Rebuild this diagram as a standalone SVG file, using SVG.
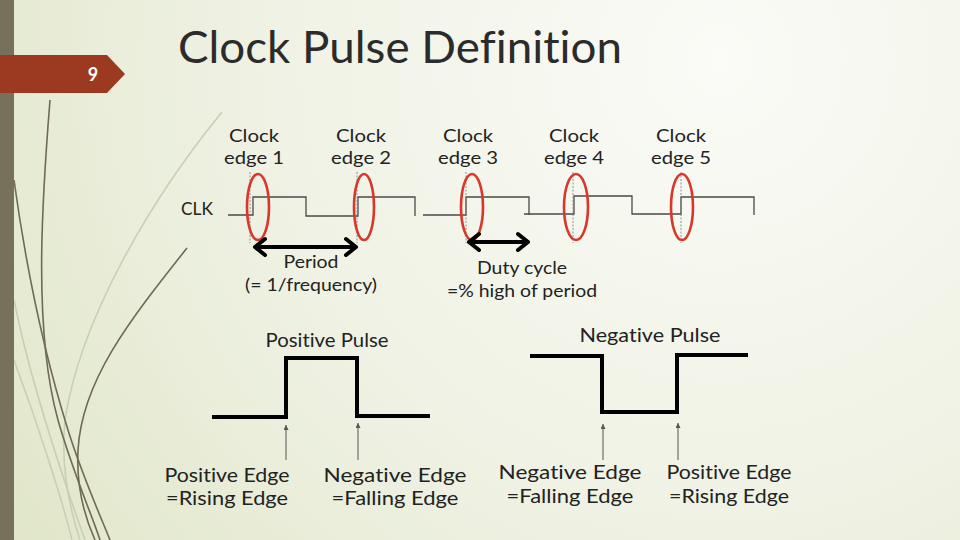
<svg xmlns="http://www.w3.org/2000/svg" width="960" height="540" viewBox="0 0 960 540">
<defs>
  <radialGradient id="bg" cx="720" cy="60" r="900" gradientUnits="userSpaceOnUse">
    <stop offset="0" stop-color="#fbfbf7"/>
    <stop offset="0.55" stop-color="#eef1e2"/>
    <stop offset="1" stop-color="#dfe5c6"/>
  </radialGradient>
  <marker id="tip" viewBox="0 0 6 6" refX="6" refY="3" markerWidth="5" markerHeight="5" markerUnits="userSpaceOnUse" orient="auto">
    <path d="M0,0 L6,3 L0,6 Z" fill="#555"/>
  </marker>
  <style>
    text{font-variant-ligatures:none}
    .t{font-family:Lato,"Open Sans","Liberation Sans",sans-serif;fill:#222;text-anchor:middle}
    .s17{font-size:17px}
    .s19{font-size:19px}
    .clk{fill:none;stroke:#4a4a4a;stroke-width:1.3}
    .dash{stroke:#777;stroke-width:0.8;stroke-dasharray:2 1.5}
    .ring{fill:none;stroke:#d8372b;stroke-width:2.6}
    .big{fill:none;stroke:#000;stroke-width:4;stroke-linecap:round;stroke-linejoin:round}
    .pulse{fill:none;stroke:#000;stroke-width:4;stroke-linejoin:miter}
    .up{stroke:#555;stroke-width:1}
    .deco{fill:none;stroke:#6f6a55;stroke-width:1.6}
    .decol{fill:none;stroke:#c9ceb5;stroke-width:1.6}
  </style>
</defs>
<rect width="960" height="540" fill="url(#bg)"/>

<g id="decoration">
  <path class="decol" d="M222,112 C150,200 80,320 65,420 C60,470 70,510 80,540"/>
  <path class="decol" d="M14,300 C30,380 60,470 85,540"/>
  <path class="decol" d="M14,360 C40,430 62,500 72,540"/>
  <path class="deco" d="M50,100 C42,200 33,330 58,420 C72,470 92,515 100,540"/>
  <path class="deco" stroke-width="2" d="M14,180 C25,260 40,340 68,430 C82,475 100,515 110,540"/>
  <path class="deco" d="M187,248 C130,320 82,380 78,450 C76,490 86,520 95,540"/>
  <rect x="0" y="0" width="14" height="540" fill="#77705a"/>
</g>

<g id="badge">
  <path d="M0,55 H107 L125,74 L107,93 H0 Z" fill="#9c3a21"/>
  <text x="93" y="81" font-family="Lato, Open Sans, sans-serif" font-size="18" font-weight="bold" fill="#fff" text-anchor="middle">9</text>
</g>

<text x="178" y="63" font-family="Lato, Open Sans, sans-serif" font-size="44" fill="#2b2b2b" textLength="444" lengthAdjust="spacingAndGlyphs">Clock Pulse Definition</text>

<g id="edge-labels">
  <text class="t s17" x="254" y="142" textLength="50" lengthAdjust="spacingAndGlyphs">Clock</text><text class="t s17" x="254" y="164" textLength="60" lengthAdjust="spacingAndGlyphs">edge 1</text>
  <text class="t s17" x="361" y="142" textLength="50" lengthAdjust="spacingAndGlyphs">Clock</text><text class="t s17" x="361" y="164" textLength="60" lengthAdjust="spacingAndGlyphs">edge 2</text>
  <text class="t s17" x="468" y="142" textLength="50" lengthAdjust="spacingAndGlyphs">Clock</text><text class="t s17" x="468" y="164" textLength="60" lengthAdjust="spacingAndGlyphs">edge 3</text>
  <text class="t s17" x="574" y="142" textLength="50" lengthAdjust="spacingAndGlyphs">Clock</text><text class="t s17" x="574" y="164" textLength="60" lengthAdjust="spacingAndGlyphs">edge 4</text>
  <text class="t s17" x="681" y="142" textLength="50" lengthAdjust="spacingAndGlyphs">Clock</text><text class="t s17" x="681" y="164" textLength="60" lengthAdjust="spacingAndGlyphs">edge 5</text>
</g>

<g id="clk">
  <text class="t s17" x="197" y="215" textLength="32" lengthAdjust="spacingAndGlyphs">CLK</text>
  <path class="clk" d="M228,215 H253 V197 H306 V216 H358 V197 H415 V216"/>
  <path class="clk" d="M423,215 H466 V197 H529 V215"/>
  <path class="clk" d="M524,214 H574 V196 H632 V214 H681 V197 H754 V215"/>
  <line class="dash" x1="250" y1="172" x2="250" y2="243"/>
  <line class="dash" x1="357" y1="172" x2="357" y2="243"/>
  <line class="dash" x1="466" y1="172" x2="466" y2="243"/>
  <line class="dash" x1="573" y1="172" x2="573" y2="243"/>
  <line class="dash" x1="681" y1="172" x2="681" y2="243"/>
</g>

<g id="rings">
  <ellipse class="ring" cx="258" cy="207" rx="11" ry="33"/>
  <ellipse class="ring" cx="364" cy="207" rx="10" ry="33"/>
  <ellipse class="ring" cx="472" cy="207" rx="11" ry="33"/>
  <ellipse class="ring" cx="576" cy="207" rx="12" ry="33"/>
  <ellipse class="ring" cx="682" cy="207" rx="11" ry="33"/>
</g>

<g id="connectors">
  <path class="big" d="M255,247 H356 M265,239 L255,247 L265,255 M346,239 L356,247 L346,255"/>
  <path class="big" d="M469,242 H528 M479,234 L469,242 L479,250 M518,234 L528,242 L518,250"/>
  <line class="up" x1="286" y1="460" x2="286" y2="425" marker-end="url(#tip)"/>
  <line class="up" x1="358" y1="460" x2="358" y2="423" marker-end="url(#tip)"/>
  <line class="up" x1="603" y1="460" x2="603" y2="424" marker-end="url(#tip)"/>
  <line class="up" x1="678" y1="460" x2="678" y2="423" marker-end="url(#tip)"/>
</g>

<g id="period-label">
  <text class="t s17" x="311" y="268" textLength="55" lengthAdjust="spacingAndGlyphs">Period</text>
  <text class="t s17" x="311" y="291" textLength="132" lengthAdjust="spacingAndGlyphs">(= 1/frequency)</text>
</g>
<g id="duty-label">
  <text class="t s17" x="522" y="274" textLength="90" lengthAdjust="spacingAndGlyphs">Duty cycle</text>
  <text class="t s17" x="522" y="297" textLength="150" lengthAdjust="spacingAndGlyphs">=% high of period</text>
</g>

<g id="positive-pulse">
  <text class="t s19" x="327" y="347" textLength="123" lengthAdjust="spacingAndGlyphs">Positive Pulse</text>
  <path class="pulse" d="M212,417 H286 V358 H357 V416 H430"/>
  <text class="t s19" x="227" y="482" textLength="125" lengthAdjust="spacingAndGlyphs">Positive Edge</text>
  <text class="t s19" x="227" y="505" textLength="122" lengthAdjust="spacingAndGlyphs">=Rising Edge</text>
  <text class="t s19" x="395" y="482" textLength="143" lengthAdjust="spacingAndGlyphs">Negative Edge</text>
  <text class="t s19" x="395" y="505" textLength="127" lengthAdjust="spacingAndGlyphs">=Falling Edge</text>
</g>

<g id="negative-pulse">
  <text class="t s19" x="650" y="342" textLength="141" lengthAdjust="spacingAndGlyphs">Negative Pulse</text>
  <path class="pulse" d="M530,356 H602 V412 H677 V355 H748"/>
  <text class="t s19" x="570" y="479" textLength="143" lengthAdjust="spacingAndGlyphs">Negative Edge</text>
  <text class="t s19" x="570" y="503" textLength="127" lengthAdjust="spacingAndGlyphs">=Falling Edge</text>
  <text class="t s19" x="729" y="479" textLength="125" lengthAdjust="spacingAndGlyphs">Positive Edge</text>
  <text class="t s19" x="729" y="503" textLength="120" lengthAdjust="spacingAndGlyphs">=Rising Edge</text>
</g>
</svg>
